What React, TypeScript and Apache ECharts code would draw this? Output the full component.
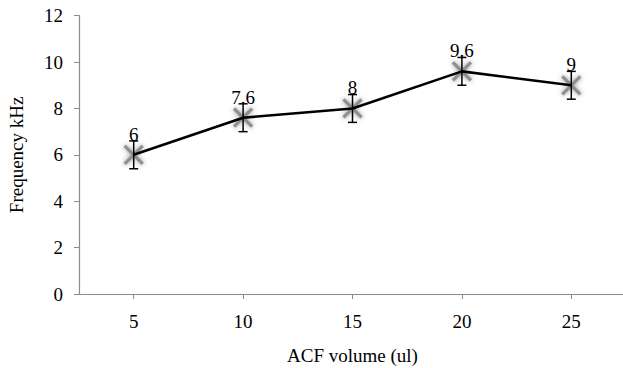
import React, { useEffect, useRef } from "react";
import * as echarts from "echarts";

const categories = ["5", "10", "15", "20", "25"];
const frequency = [6, 7.6, 8, 9.6, 9];
const errors = [0.6, 0.6, 0.6, 0.6, 0.6];
const yTicks = { min: 0, max: 12, interval: 2 };

const FONT = "Liberation Serif";

export default function App() {
  const ref = useRef<HTMLDivElement>(null);
  useEffect(() => {
    if (!ref.current) return;
    const chart = echarts.init(ref.current, null, { renderer: "svg" });
    const data = frequency.map((v, i) => [i, v, errors[i]]);
    chart.setOption({
      animation: false,
      backgroundColor: "#ffffff",
      textStyle: { fontFamily: FONT },
      grid: { left: 79, top: 15.7, width: 547, height: 278.3, outerBoundsMode: "none", containLabel: false },
      xAxis: {
        type: "category",
        data: categories,
        boundaryGap: true,
        name: "ACF volume (ul)",
        nameLocation: "middle",
        nameGap: 52,
        nameTextStyle: { fontFamily: FONT, fontSize: 19, color: "#000" },
        axisLine: { lineStyle: { color: "#8c8c8c", width: 1.2 } },
        axisTick: { show: true, alignWithLabel: true, length: 5, lineStyle: { color: "#8c8c8c" } },
        axisLabel: { fontFamily: FONT, fontSize: 19, color: "#000", margin: 18 },
        splitLine: { show: false },
      },
      yAxis: {
        type: "value",
        min: yTicks.min,
        max: yTicks.max,
        interval: yTicks.interval,
        name: "Frequency kHz",
        nameLocation: "middle",
        nameGap: 53,
        nameRotate: 90,
        nameTextStyle: { fontFamily: FONT, fontSize: 19, color: "#000" },
        axisLine: { show: true, lineStyle: { color: "#8c8c8c", width: 1.2 } },
        axisTick: { show: true, length: 5, lineStyle: { color: "#8c8c8c" } },
        axisLabel: { fontFamily: FONT, fontSize: 19, color: "#000", margin: 16 },
        splitLine: { show: false },
      },
      series: [
        {
          type: "custom",
          z: 1,
          data,
          renderItem: (params: any, api: any) => {
            const p = api.coord([api.value(0), api.value(1)]);
            const s = 9;
            const style = { stroke: "#909090", lineWidth: 3.2, shadowBlur: 5, shadowColor: "rgba(130,130,130,0.9)" };
            return {
              type: "group",
              children: [
                { type: "line", shape: { x1: p[0] - s, y1: p[1] - s, x2: p[0] + s, y2: p[1] + s }, style },
                { type: "line", shape: { x1: p[0] - s, y1: p[1] + s, x2: p[0] + s, y2: p[1] - s }, style },
                { type: "line", shape: { x1: p[0], y1: p[1] - s - 2, x2: p[0], y2: p[1] + s + 2 }, style },
              ],
            };
          },
        },
        {
          type: "line",
          z: 2,
          data: frequency,
          symbol: "none",
          lineStyle: { color: "#000", width: 2.6 },
        },
        {
          type: "custom",
          z: 3,
          data,
          renderItem: (params: any, api: any) => {
            const x = api.value(0);
            const v = api.value(1);
            const e = api.value(2);
            const p = api.coord([x, v]);
            const top = api.coord([x, v + e]);
            const bot = api.coord([x, v - e]);
            const cap = 4.5;
            const style = { stroke: "#000", lineWidth: 1.5 };
            return {
              type: "group",
              children: [
                { type: "line", shape: { x1: p[0], y1: top[1], x2: p[0], y2: bot[1] }, style },
                { type: "line", shape: { x1: p[0] - cap, y1: top[1], x2: p[0] + cap, y2: top[1] }, style },
                { type: "line", shape: { x1: p[0] - cap, y1: bot[1], x2: p[0] + cap, y2: bot[1] }, style },
                {
                  type: "text",
                  x: p[0],
                  y: p[1] - 11,
                  style: {
                    text: String(v),
                    textAlign: "center",
                    textVerticalAlign: "bottom",
                    fontFamily: FONT,
                    fontSize: 19,
                    fill: "#000",
                  },
                },
              ],
            };
          },
        },
      ],
    });
    return () => chart.dispose();
  }, []);
  return (
    <div
      ref={ref}
      style={{ position: "fixed", left: 0, top: 0, width: 623, height: 368, background: "#fff" }}
    />
  );
}
